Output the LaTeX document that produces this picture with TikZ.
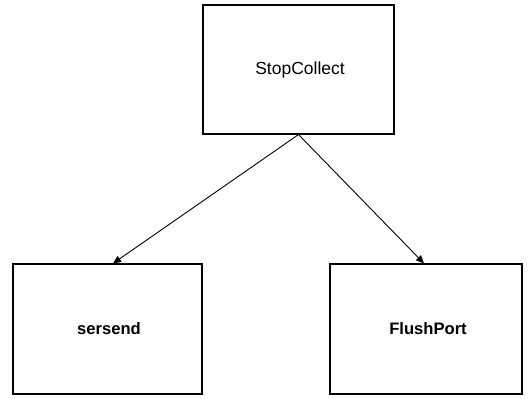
\documentclass[tikz,border=0pt]{standalone}
\usepackage{fontspec}
\setmainfont{Liberation Sans}
\usetikzlibrary{arrows.meta}
\begin{document}
\begin{tikzpicture}[x=1pt,y=-1pt,
  box/.style={draw=black, line width=1.1pt, minimum width=#1, inner sep=0pt, rectangle},
  conn/.style={draw=black, line width=0.9pt, -{Triangle[length=8pt,width=7pt]}}]
\useasboundingbox[fill=white] (0,0) rectangle (528,399);
\node[box=191pt, minimum height=129pt] (top) at (298.5,69.5) {};
\node[font=\fontsize{17.5}{20}\selectfont] (toplabel) at (300,70) {StopCollect};
\node[box=189pt, minimum height=130pt] (left) at (107.5,329) {};
\node[font=\bfseries\fontsize{16.6}{20}\selectfont] (leftlabel) at (109,329) {sersend};
\node[box=192pt, minimum height=130pt] (right) at (426,329) {};
\node[font=\bfseries\fontsize{16.6}{20}\selectfont] (rightlabel) at (428,329) {FlushPort};
\draw[conn] (top.south) -- ([xshift=5.5pt]left.north);
\draw[conn] (top.south) -- ([xshift=-2pt]right.north);
\end{tikzpicture}
\end{document}
